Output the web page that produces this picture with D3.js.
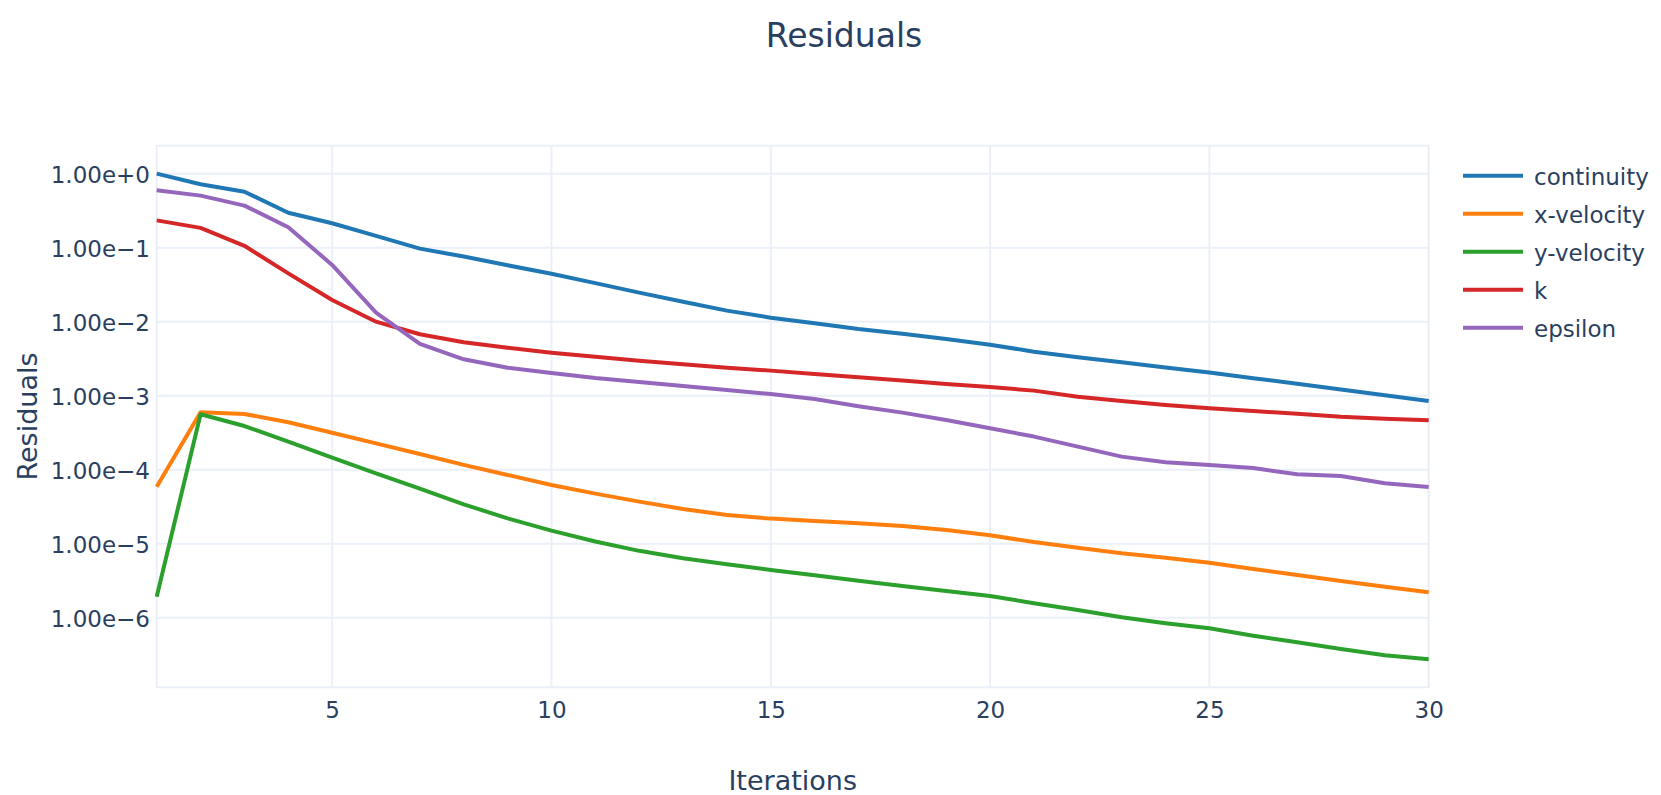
<!DOCTYPE html>
<html>
<head>
<meta charset="utf-8">
<script src="https://cdn.jsdelivr.net/npm/d3@7"></script>
<style>
  html, body { margin: 0; padding: 0; background: #fff; }
  svg { display: block; font-family: "DejaVu Sans", Verdana, sans-serif; }
  .tick text { fill: #2a3f5f; }
</style>
</head>
<body>
<svg id="chart" width="1661" height="795"></svg>
<script>
// Residuals per iteration
var iterations = d3.range(1, 31);

var continuity = [1.0, 0.719, 0.571, 0.297, 0.214, 0.144, 0.097, 0.0758, 0.0578, 0.0445,
    0.0332, 0.0247, 0.0186, 0.0141, 0.01132, 0.0095, 0.00796, 0.00689, 0.00583, 0.00489,
    0.00393, 0.0033, 0.00282, 0.00241, 0.00205, 0.00172, 0.00145, 0.00121, 0.00101, 0.000848];

var xVelocity = [5.89e-5, 5.97e-4, 5.66e-4, 4.37e-4, 3.16e-4, 2.27e-4, 1.63e-4, 1.16e-4, 8.48e-5, 6.2e-5,
    4.75e-5, 3.7e-5, 2.94e-5, 2.44e-5, 2.18e-5, 2.03e-5, 1.89e-5, 1.73e-5, 1.53e-5, 1.3e-5,
    1.05e-5, 8.83e-6, 7.41e-6, 6.47e-6, 5.53e-6, 4.55e-6, 3.78e-6, 3.13e-6, 2.62e-6, 2.2e-6];

var yVelocity = [1.92e-6, 5.6e-4, 3.89e-4, 2.39e-4, 1.45e-4, 8.93e-5, 5.54e-5, 3.4e-5, 2.2e-5, 1.5e-5,
    1.07e-5, 8.0e-6, 6.35e-6, 5.27e-6, 4.42e-6, 3.74e-6, 3.16e-6, 2.68e-6, 2.3e-6, 1.96e-6,
    1.57e-6, 1.27e-6, 1.01e-6, 8.4e-7, 7.19e-7, 5.71e-7, 4.65e-7, 3.78e-7, 3.1e-7, 2.74e-7];

var kResidual = [0.234, 0.185, 0.106, 0.045, 0.0196, 0.01, 0.00676, 0.00527, 0.00445, 0.00381,
    0.00336, 0.00297, 0.00265, 0.00239, 0.00218, 0.00196, 0.00177, 0.0016, 0.00144, 0.00131,
    0.00117, 0.00097, 0.000848, 0.000748, 0.000676, 0.000621, 0.000571, 0.00052, 0.000489, 0.000465];

var epsilon = [0.597, 0.505, 0.37, 0.189, 0.0584, 0.01324, 0.005, 0.0031, 0.00239, 0.00203,
    0.00173, 0.00153, 0.00135, 0.00119, 0.00105, 0.0009, 0.00072, 0.00059, 0.00047, 0.000362,
    0.00028, 0.000205, 0.00015, 0.000126, 0.000116, 0.000105, 8.68e-5, 8.22e-5, 6.55e-5, 5.84e-5];

var seriesNames = ['continuity', 'x-velocity', 'y-velocity', 'k', 'epsilon'];
var seriesValues = [continuity, xVelocity, yVelocity, kResidual, epsilon];
var seriesColors = ['#1f77b4', '#ff7f0e', '#2ca02c', '#d62728', '#9467bd'];

var xTicks = [5, 10, 15, 20, 25, 30];
var yTicks = [1e0, 1e-1, 1e-2, 1e-3, 1e-4, 1e-5, 1e-6];

(function () {
    'use strict';

    var textColor = '#2a3f5f';
    var gridColor = '#ebf0f8';

    var plot = { left: 156.7, right: 1428.7, top: 145.7, bottom: 687.3 };

    var svg = d3.select('#chart');

    var x = d3.scaleLinear().domain([1, 30]).range([plot.left, plot.right]);
    var y = d3.scaleLog()
        .domain([Math.pow(10, -6.941), Math.pow(10, 0.378)])
        .range([plot.bottom, plot.top]);

    // gridlines
    var grid = svg.append('g').attr('class', 'grid');
    grid.selectAll('line.gx').data(xTicks).join('line')
        .attr('class', 'gx')
        .attr('x1', x).attr('x2', x)
        .attr('y1', plot.top).attr('y2', plot.bottom)
        .attr('stroke', gridColor).attr('stroke-width', 2);
    grid.selectAll('line.gy').data(yTicks).join('line')
        .attr('class', 'gy')
        .attr('y1', y).attr('y2', y)
        .attr('x1', plot.left).attr('x2', plot.right)
        .attr('stroke', gridColor).attr('stroke-width', 2);

    // frame around the plot area
    svg.append('rect')
        .attr('x', plot.left).attr('y', plot.top)
        .attr('width', plot.right - plot.left)
        .attr('height', plot.bottom - plot.top)
        .attr('fill', 'none')
        .attr('stroke', gridColor).attr('stroke-width', 2);

    // axes (labels only)
    function expFormat(v) {
        return d3.format('.2e')(v).replace('-', '\u2212');
    }

    var yAxis = svg.append('g')
        .attr('transform', 'translate(' + plot.left + ',0)')
        .call(d3.axisLeft(y).tickValues(yTicks).tickFormat(expFormat).tickSize(0).tickPadding(6.7));
    yAxis.select('.domain').remove();
    yAxis.selectAll('text')
        .attr('dy', '0.37em')
        .style('font-size', '23px')
        .style('font-family', '"DejaVu Sans", Verdana, sans-serif');

    var xAxis = svg.append('g')
        .attr('transform', 'translate(0,' + plot.bottom + ')')
        .call(d3.axisBottom(x).tickValues(xTicks).tickFormat(d3.format('d')).tickSize(0).tickPadding(14.7));
    xAxis.select('.domain').remove();
    xAxis.selectAll('text')
        .style('font-size', '23px')
        .style('font-family', '"DejaVu Sans", Verdana, sans-serif');

    // lines
    var line = d3.line()
        .x(function (d, i) { return x(iterations[i]); })
        .y(function (d) { return y(d); });

    svg.append('g').attr('class', 'series')
        .selectAll('path').data(seriesValues).join('path')
        .attr('d', line)
        .attr('fill', 'none')
        .attr('stroke', function (d, i) { return seriesColors[i]; })
        .attr('stroke-width', 4)
        .attr('stroke-linejoin', 'round');

    // titles
    svg.append('text')
        .attr('x', 844).attr('y', 46.7)
        .attr('text-anchor', 'middle')
        .attr('fill', textColor)
        .style('font-size', '33px')
        .text('Residuals');

    svg.append('text')
        .attr('x', (plot.left + plot.right) / 2).attr('y', 790)
        .attr('text-anchor', 'middle')
        .attr('fill', textColor)
        .style('font-size', '27px')
        .text('Iterations');

    svg.append('text')
        .attr('transform', 'translate(37,' + ((plot.top + plot.bottom) / 2) + ') rotate(-90)')
        .attr('text-anchor', 'middle')
        .attr('fill', textColor)
        .style('font-size', '27px')
        .text('Residuals');

    // legend
    var legend = svg.append('g').attr('transform', 'translate(1463,175.7)');
    var item = legend.selectAll('g').data(seriesNames).join('g')
        .attr('transform', function (d, i) { return 'translate(0,' + (i * 38) + ')'; });
    item.append('line')
        .attr('x1', 0).attr('x2', 60)
        .attr('stroke', function (d, i) { return seriesColors[i]; })
        .attr('stroke-width', 4);
    item.append('text')
        .attr('x', 71).attr('dy', '0.4em')
        .attr('fill', textColor)
        .style('font-size', '23px')
        .text(function (d) { return d; });
})();
</script>
</body>
</html>
